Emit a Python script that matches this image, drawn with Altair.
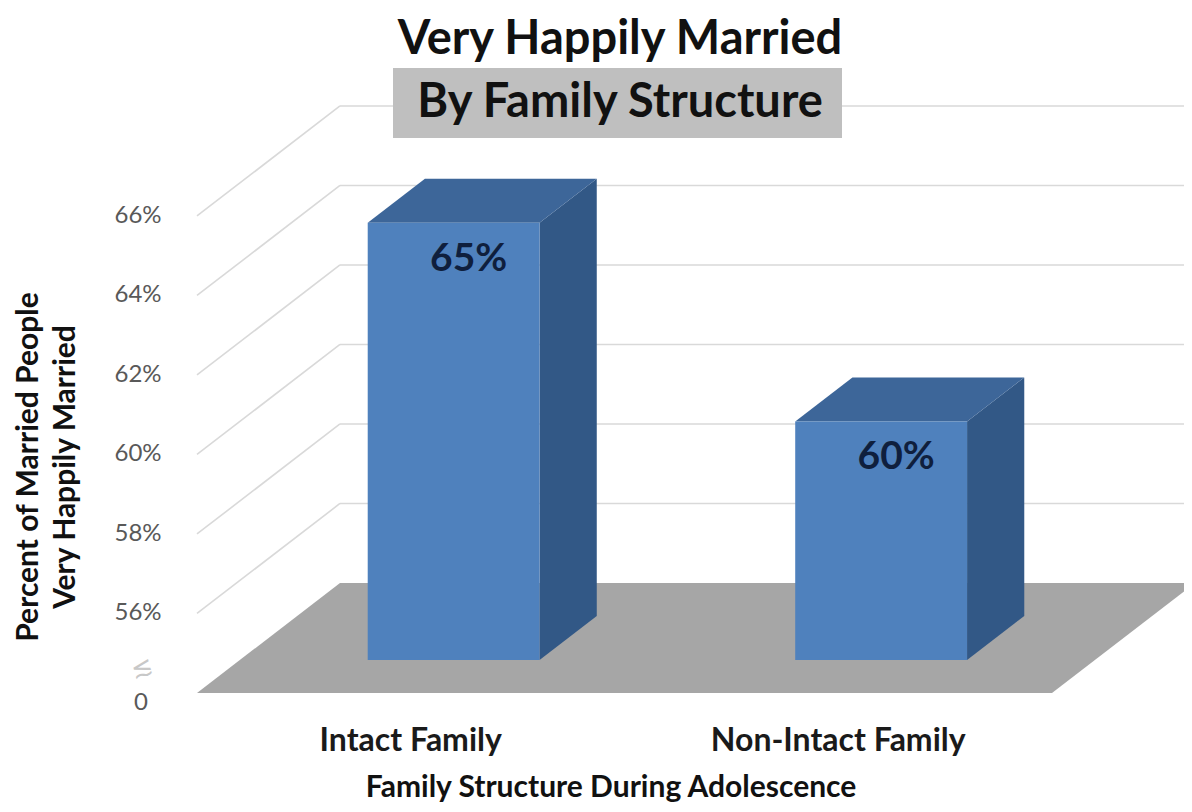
import altair as alt
import pandas as pd

# ---- data ----
categories = ["Intact Family", "Non-Intact Family"]
values = [65, 60]
value_labels = ["65%", "60%"]
tick_values = [56, 58, 60, 62, 64, 66]
tick_labels = ["56%", "58%", "60%", "62%", "64%", "66%"]
floor_value = 54
floor_label = "0"

# ---- 3D projection style constants ----
DX = 0.3345      # depth shift in category units (front goes left)
DY = 2.767       # depth shift in value units (front goes down)
F_FRONT, F_BACK = 0.7, 0.3
HALF = 0.201
X_DOMAIN = [-0.7766, 1.9743]
Y_DOMAIN = [48.44, 68.465]
W, H = 1176, 796
FONT = "Lato"

xs = alt.Scale(domain=X_DOMAIN, nice=False, zero=False)
ys = alt.Scale(domain=Y_DOMAIN, nice=False, zero=False)
n = len(categories)
centers = [i + 0.5 for i in range(n)]

# floor
floor_df = pd.DataFrame({
    "y": [floor_value, floor_value - DY],
    "x": [0, -DX],
    "x2": [n, n - DX],
})
floor = alt.Chart(floor_df).mark_area(orient="horizontal", color="#a6a6a6").encode(
    y=alt.Y("y:Q", scale=ys, axis=None),
    x=alt.X("x:Q", scale=xs, axis=None),
    x2="x2:Q",
)

# back wall gridlines + diagonals
grid_df = pd.DataFrame({"v": tick_values})
grid_df["x0"] = 0.0
grid_df["x1"] = float(n) + 0.1
grid_df["xf"] = -DX
grid_df["vf"] = grid_df["v"] - DY
back_lines = alt.Chart(grid_df).mark_rule(color="#d9d9d9", strokeWidth=1.6).encode(
    x=alt.X("x0:Q", scale=xs, axis=None), x2="x1:Q",
    y=alt.Y("v:Q", scale=ys, axis=None),
)
diag_lines = alt.Chart(grid_df).mark_rule(color="#d9d9d9", strokeWidth=1.6).encode(
    x=alt.X("x0:Q", scale=xs, axis=None), x2="xf:Q",
    y=alt.Y("v:Q", scale=ys, axis=None), y2="vf:Q",
)

# bar faces
side_rows, top_rows, front_rows = [], [], []
for c, cat, v in zip(centers, categories, values):
    for f in (F_FRONT, F_BACK):
        side_rows.append({"cat": cat, "x": c + HALF - f * DX,
                          "y": floor_value - f * DY, "y2": v - f * DY})
        top_rows.append({"cat": cat, "y": v - f * DY,
                         "x": c - HALF - f * DX, "x2": c + HALF - f * DX})
    front_rows.append({"cat": cat, "x": c - HALF - F_FRONT * DX, "x2": c + HALF - F_FRONT * DX,
                       "y": floor_value - F_FRONT * DY, "y2": v - F_FRONT * DY})

side = alt.Chart(pd.DataFrame(side_rows)).mark_area(orient="vertical", color="#325886").encode(
    x=alt.X("x:Q", scale=xs, axis=None),
    y=alt.Y("y:Q", scale=ys, axis=None), y2="y2:Q",
    detail="cat:N",
)
top = alt.Chart(pd.DataFrame(top_rows)).mark_area(orient="horizontal", color="#3d6699").encode(
    y=alt.Y("y:Q", scale=ys, axis=None),
    x=alt.X("x:Q", scale=xs, axis=None), x2="x2:Q",
    detail="cat:N",
)
front = alt.Chart(pd.DataFrame(front_rows)).mark_rect(color="#4f81bd").encode(
    x=alt.X("x:Q", scale=xs, axis=None), x2="x2:Q",
    y=alt.Y("y:Q", scale=ys, axis=None), y2="y2:Q",
)

# value labels
vl_df = pd.DataFrame({"x": [c - F_FRONT * DX for c in centers],
                      "y": [v - F_FRONT * DY for v in values],
                      "label": value_labels})
vlabels = alt.Chart(vl_df).mark_text(font=FONT, fontWeight="bold", fontSize=39,
                                     color="#0f1f3d", dx=15, dy=36, baseline="middle").encode(
    x=alt.X("x:Q", scale=xs, axis=None), y=alt.Y("y:Q", scale=ys, axis=None), text="label:N")

# y tick labels at front end of diagonals
tk_df = pd.DataFrame({"x": [-DX] * len(tick_values),
                      "y": [t - DY for t in tick_values], "label": tick_labels})
ticks = alt.Chart(tk_df).mark_text(font=FONT, fontSize=24, color="#595959", dx=-59,
                                   baseline="middle").encode(
    x=alt.X("x:Q", scale=xs, axis=None), y=alt.Y("y:Q", scale=ys, axis=None), text="label:N")
zero_df = pd.DataFrame({"x": [-DX], "y": [floor_value - DY], "label": [floor_label]})
zero = alt.Chart(zero_df).mark_text(font=FONT, fontSize=24, color="#595959", dx=-56, dy=10,
                                    baseline="middle").encode(
    x=alt.X("x:Q", scale=xs, axis=None), y=alt.Y("y:Q", scale=ys, axis=None), text="label:N")
brk_df = pd.DataFrame({"x": [-DX], "y": [floor_value + 1 - DY], "label": ["≲"]})
brk = alt.Chart(brk_df).mark_text(font="DejaVu Sans", fontSize=26, color="#c8c8c8", dx=-57, angle=345,
                                  baseline="middle").encode(
    x=alt.X("x:Q", scale=xs, axis=None), y=alt.Y("y:Q", scale=ys, axis=None), text="label:N")

# category labels
cat_df = pd.DataFrame({"x": [c - DX for c in centers],
                       "y": [floor_value - DY] * n, "label": categories})
cats = alt.Chart(cat_df).mark_text(font=FONT, fontWeight="bold", fontSize=32, color="#1a1a1a",
                                   dy=48, baseline="middle").encode(
    x=alt.X("x:Q", scale=xs, axis=None), y=alt.Y("y:Q", scale=ys, axis=None), text="label:N")

one = pd.DataFrame({"a": [0]})

def label(text, x, y, size, angle=0, weight="bold", color="#111111", baseline="middle"):
    return alt.Chart(one).mark_text(text=text, font=FONT, fontWeight=weight, fontSize=size,
                                    color=color, angle=angle, baseline=baseline, align="center").encode(
        x=alt.value(x), y=alt.value(y))

title_box = alt.Chart(one).mark_rect(color="#bfbfbf").encode(
    x=alt.value(385), x2=alt.value(834), y=alt.value(60), y2=alt.value(130))

title1 = label("Very Happily Married", 612, 32, 47)
title2 = label("By Family Structure", 612, 95, 47)
ytitle1 = label("Percent of Married People", 21, 459, 30, angle=270)
ytitle2 = label("Very Happily Married", 58, 459, 30, angle=270)
xtitle = label("Family Structure During Adolescence", 603, 789, 30, baseline="alphabetic")

chart = alt.layer(
    floor, back_lines, diag_lines, side, top, front, vlabels, ticks, zero, brk, cats,
    title_box, title1, title2, ytitle1, ytitle2, xtitle,
).properties(
    width=W, height=H, autosize=alt.AutoSizeParams(type="none"), padding=0,
).configure_view(stroke=None)

chart.save("out.html", embed_options={"renderer": "svg", "actions": False})
